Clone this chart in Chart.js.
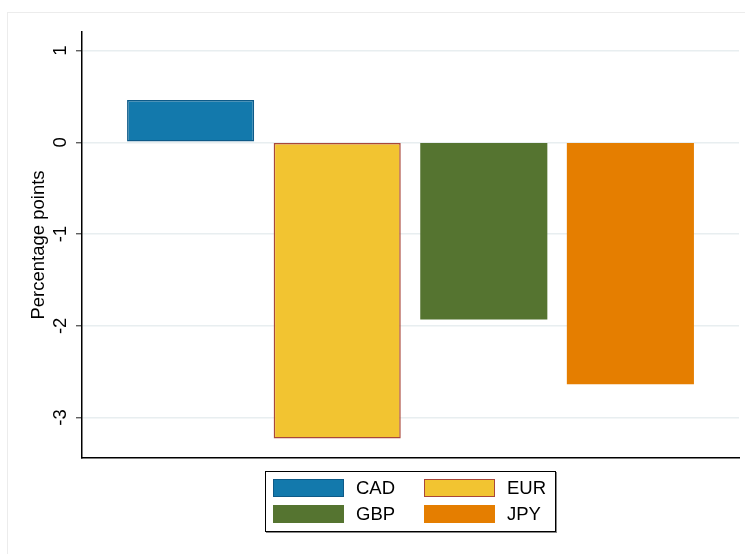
<!DOCTYPE html>
<html>
<head>
<meta charset="utf-8">
<script src="https://cdn.jsdelivr.net/npm/chart.js@4/dist/chart.umd.min.js"></script>
<style>
  html, body { margin: 0; padding: 0; background: #fff; }
  #wrap { position: relative; width: 745px; height: 554px; font-family: "Liberation Sans", Arial, sans-serif; }
  #c { position: absolute; left: 0; top: 0; }
  #legend { position: absolute; left: 265px; top: 471px; width: 289px; height: 59px; border: 1px solid #000; box-shadow: 1px 1px 0 #888; }
  .item { position: absolute; height: 19px; }
  .sw { position: absolute; left: 0; top: 0; width: 71px; height: 18px; box-sizing: border-box; }
  .lab { position: absolute; left: 83px; top: -2px; font-size: 18.5px; line-height: 22px; color: #000; white-space: nowrap; }
</style>
</head>
<body>
<div id="wrap">
  <canvas id="c" width="745" height="554"></canvas>
  <div id="legend"></div>
</div>
<script>
// ---- data ----
const currencies = ["CAD", "EUR", "GBP", "JPY"];
const values = [0.462, -3.228, -1.932, -2.637];
const fillColors = ["#1379ac", "#f2c431", "#557430", "#e57e00"];
const borderColors = ["#0e5a88", "#a9473a", "#557430", "#e57e00"];
const borderWidths = [1.5, 1.5, 0, 0];
const tickValues = [1, 0, -1, -2, -3];
const tickLabels = ["1", "0", "-1", "-2", "-3"];
const yTitle = "Percentage points";

const FONT = '"Liberation Sans", Arial, sans-serif';

const datasets = currencies.map((c, i) => ({
  label: c,
  data: [values[i]],
  backgroundColor: fillColors[i],
  borderColor: borderColors[i],
  borderWidth: borderWidths[i],
  borderSkipped: false
}));

const decor = {
  id: 'decor',
  beforeDraw(chart) {
    const ctx = chart.ctx;
    ctx.save();
    ctx.fillStyle = '#fff';
    ctx.fillRect(0, 0, chart.width, chart.height);
    ctx.strokeStyle = '#ececec';
    ctx.lineWidth = 1;
    ctx.strokeRect(7.5, 12.5, 800, 600);
    ctx.restore();
  },
  afterDraw(chart) {
    const ctx = chart.ctx;
    const ys = chart.scales.y;
    ctx.save();
    ctx.fillStyle = '#000';
    ctx.font = '18.5px ' + FONT;
    ctx.textAlign = 'center';
    ctx.textBaseline = 'alphabetic';
    tickValues.forEach((v, i) => {
      const y = ys.getPixelForValue(v);
      ctx.save();
      ctx.translate(66, y);
      ctx.rotate(-Math.PI / 2);
      ctx.fillText(tickLabels[i], 0, 0);
      ctx.restore();
    });
    const cy = (chart.chartArea.top + chart.chartArea.bottom) / 2;
    ctx.save();
    ctx.translate(44, cy);
    ctx.rotate(-Math.PI / 2);
    ctx.fillText(yTitle, 0, 0);
    ctx.restore();
    ctx.restore();
  }
};

const chart = new Chart(document.getElementById('c'), {
  type: 'bar',
  data: { labels: [''], datasets },
  options: {
    responsive: false,
    animation: false,
    devicePixelRatio: 1,
    layout: { padding: { left: 0, top: 32, right: 6, bottom: 96 } },
    datasets: { bar: { categoryPercentage: 0.8925, barPercentage: 0.867 } },
    plugins: { legend: { display: false }, tooltip: { enabled: false }, title: { display: false } },
    scales: {
      x: {
        type: 'category',
        grid: { display: false },
        ticks: { display: false },
        border: { display: true, color: '#000', width: 1.5 },
        afterFit(s) { s.height = 0; }
      },
      y: {
        min: -3.441,
        max: 1.203,
        afterBuildTicks(s) { s.ticks = tickValues.map(v => ({ value: v })); },
        ticks: { display: false },
        grid: { color: '#e8eef0', lineWidth: 1.5, drawTicks: true, tickLength: 6, tickColor: '#444', tickWidth: 1.2 },
        border: { display: true, color: '#000', width: 1.5 },
        afterFit(s) { s.width = 82; }
      }
    }
  },
  plugins: [decor]
});

// HTML legend built from the chart datasets (2 columns)
const leg = document.getElementById('legend');
chart.data.datasets.forEach((ds, i) => {
  const col = i % 2, row = Math.floor(i / 2);
  const it = document.createElement('div');
  it.className = 'item';
  it.style.left = (7 + col * 151) + 'px';
  it.style.top = (7 + row * 26) + 'px';
  const sw = document.createElement('div');
  sw.className = 'sw';
  sw.style.background = ds.backgroundColor;
  if (ds.borderWidth > 0) sw.style.border = ds.borderWidth + 'px solid ' + ds.borderColor;
  const lb = document.createElement('div');
  lb.className = 'lab';
  lb.textContent = ds.label;
  it.appendChild(sw); it.appendChild(lb);
  leg.appendChild(it);
});
</script>
</body>
</html>
